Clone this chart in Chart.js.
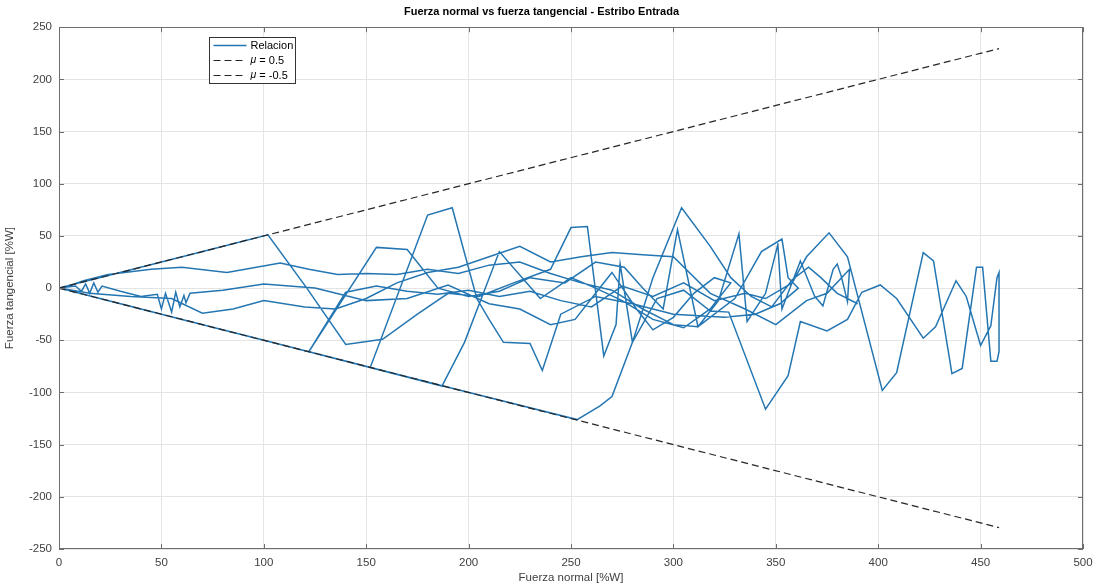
<!DOCTYPE html>
<html>
<head>
<meta charset="utf-8">
<title>Fuerza normal vs fuerza tangencial</title>
<script src="https://cdn.jsdelivr.net/npm/chart.js@4.4.0/dist/chart.umd.min.js"></script>
<style>
    html, body { margin: 0; padding: 0; background: #fff; }
    #wrap { width: 1104px; height: 588px; position: relative; }
</style>
</head>
<body>
<div id="wrap"><canvas id="fuerzaChart"></canvas></div>
<script>

// ---------- DATA ----------
// Relacion: fuerza normal (x) vs fuerza tangencial (y), en %W, one continuous trace
const relX = [
    // ciclo 1 (out)
    0, 25, 50, 75, 102, 121, 140, 158, 175, 190, 205, 222, 240, 250, 258, 266, 272, 274, 280, 292,
    305, 318, 327, 345, 356, 362, 375, 385, 392, 401, 409, 422, 428, 438, 443, 450, 455, 458, 459, 459,
    // ciclo 1 (back)
    458, 455, 451, 448, 441, 436, 427, 422, 409, 402, 385, 376, 365, 358, 345, 335, 320, 305, 290, 275,
    260, 245, 230, 215, 200, 185, 170, 155, 140, 122, 91.5, 61, 30.5, 0,
    // ciclo 2
    6, 12, 24, 45, 60, 82, 108, 122, 136, 150, 165, 180, 195, 210, 225, 240, 255, 270, 285, 300,
    312, 330, 343, 353, 356, 361, 352, 340, 325, 300, 280, 262, 245, 236, 230, 217, 210, 204, 192, 180,
    152, 114, 76, 38, 0,
    // ciclo 3
    30.5, 61, 91.5, 122, 155, 170, 185, 200, 215, 230, 247, 262, 276, 285, 295, 302, 312, 322, 332, 336,
    345, 351, 353, 362, 369, 373, 378, 380, 382, 385, 386, 375, 365, 350, 335, 318, 300, 285, 270, 255,
    240, 225, 210, 195, 180, 165, 150, 135, 120, 100, 85, 70, 55, 35, 15, 0,
    // ciclo 4
    8, 11, 13, 15, 17, 19, 21, 30, 40, 48, 50, 52, 55, 57, 59, 61, 62, 64, 80, 100,
    125, 150, 170, 190, 210, 225, 240, 252, 262, 270, 282, 290, 300, 310, 320, 328, 318, 305, 290, 275,
    262, 250, 235, 215, 198, 187, 140, 93, 46, 0,
    // ciclo 5
    63, 126, 190, 253, 264, 270, 280, 290, 304, 318, 328, 338, 348, 358, 366, 372, 380, 390
];
const relY = [
    0, 12.5, 25, 37.5, 51, 0, -54, -49, -25, -5, -8, 5, 18, 58, 59, -65, -35, 23, -52, -10,
    -2, -22, -23, -116, -84, -32, -41, -30, -4, 3, -10, -48, -37, 7, -8, -55, -36, 10, 15, -61,
    -70, -70, 20, 20, -77, -82, 26, 34, -81, -98, 30, 53, 30, 5, -10, -5, -12, 5, -8, 2,
    -18, -12, -3, -8, -2, -6, -3, 2, -4, -61, -45.75, -30.5, -15.25, 0,
    3, 7, 13, 18, 20, 15, 24, 18, 13, 14, 13, 18, 14, 22, 25, 14, 5, -2, -20, -35,
    -37, -10, 35, 47, 10, 0, -15, -25, -28, -25, -15, -8, -25, -79, -53, -52, -30, -10, 77, 70,
    -76, -57, -38, -19, 0,
    -15.25, -30.5, -45.75, -61, 39, 37, 0, -8, -3, 10, 5, 25, 20, 0, -20, 56, -37, -12, 52, -32,
    -5, 42, -20, 26, -8, -17, 18, 23, 11, -13, 18, -5, -12, -35, -20, -5, 30, 32, 34, 30,
    25, 40, 30, 20, 15, 5, -10, -20, -18, -12, -20, -24, -10, -8, -5, 0,
    2, -3, 4, -5, 5, -4, 2, -3, -8, -6, -20, -5, -23, -4, -18, -7, -14, -5, -2, 4,
    0, -12, -10, 3, -15, -20, -35, -30, -5, 15, -20, -40, -28, -5, 10, 5, -20, -38, -30, -12,
    0, 10, -10, 35, -52, -94, -70, -46.5, -23, 0,
    -31.5, -63, -95, -126, -113, -104, -52, 10, 77, 40, 10, -8, -18, 8, 20, 10, -5, -15
];

// friction limit lines: y = mu * x
const muX = [0, 459];
const muPosY = [0, 229.5];
const muNegY = [0, -229.5];

const labels = ["Relacion", "\u03bc = 0.5", "\u03bc = -0.5"];
const titleText = "Fuerza normal vs fuerza tangencial - Estribo Entrada";

// ---------- STYLE ----------
const FONT = "'Liberation Sans', Arial, Helvetica, sans-serif";
const TEXT_COLOR = "#404040";
const AXIS_COLOR = "#6e6e6e";
const GRID_COLOR = "#e4e4e4";
const BLUE = "#2476b2";
const DASH = "#262626";

function toPoints(xs, ys) {
    return xs.map((x, i) => ({ x: x, y: ys[i] }));
}

// ---------- MATLAB-LIKE BOX, INWARD TICKS, LEGEND ----------
const matlabBox = {
    id: "matlabBox",
    afterDatasetsDraw(chart) {
        const { ctx, chartArea: a, scales } = chart;
        const len = 5;
        ctx.save();
        ctx.strokeStyle = AXIS_COLOR;
        ctx.lineWidth = 1;
        ctx.strokeRect(Math.round(a.left) + 0.5, Math.round(a.top) + 0.5,
            Math.round(a.right - a.left) - 1, Math.round(a.bottom - a.top) - 1);

        ctx.beginPath();
        scales.x.ticks.forEach(t => {
            const px = Math.round(scales.x.getPixelForValue(t.value)) + 0.5;
            ctx.moveTo(px, a.bottom); ctx.lineTo(px, a.bottom - len);
            ctx.moveTo(px, a.top); ctx.lineTo(px, a.top + len);
        });
        scales.y.ticks.forEach(t => {
            const py = Math.round(scales.y.getPixelForValue(t.value)) + 0.5;
            ctx.moveTo(a.left, py); ctx.lineTo(a.left + len, py);
            ctx.moveTo(a.right, py); ctx.lineTo(a.right - len, py);
        });
        ctx.stroke();
        ctx.restore();
    },
    afterDraw(chart) {
        const { ctx, chartArea: a } = chart;
        const bx = Math.round(a.left + 150) + 0.5;
        const by = Math.round(a.top + 10) + 0.5;
        const bw = 86, bh = 46, row = 15;

        ctx.save();
        ctx.fillStyle = "#fff";
        ctx.fillRect(bx, by, bw, bh);
        ctx.strokeStyle = "#333";
        ctx.lineWidth = 1;
        ctx.strokeRect(bx, by, bw, bh);

        chart.data.datasets.forEach((ds, i) => {
            const cy = by + 8 + i * row;
            ctx.beginPath();
            ctx.strokeStyle = ds.borderColor;
            ctx.lineWidth = ds.borderWidth;
            ctx.setLineDash(ds.borderDash || []);
            ctx.moveTo(bx + 4, cy);
            ctx.lineTo(bx + 37, cy);
            ctx.stroke();
            ctx.setLineDash([]);

            ctx.fillStyle = "#000";
            ctx.textBaseline = "middle";
            ctx.textAlign = "left";
            let tx = bx + 41;
            let txt = ds.label;
            if (txt.charAt(0) === "\u03bc") {
                ctx.font = "italic 10.5px " + FONT;
                ctx.fillText("\u03bc", tx, cy);
                tx += ctx.measureText("\u03bc").width;
                txt = txt.slice(1);
            }
            ctx.font = "11px " + FONT;
            ctx.fillText(txt, tx, cy);
        });
        ctx.restore();
    }
};

// ---------- CHART ----------
const canvas = document.getElementById("fuerzaChart");

new Chart(canvas.getContext("2d"), {
    type: "scatter",
    data: {
        datasets: [
            {
                label: labels[0],
                data: toPoints(relX, relY),
                showLine: true,
                borderColor: BLUE,
                backgroundColor: BLUE,
                borderWidth: 1.5,
                pointRadius: 0,
                tension: 0,
                order: 2
            },
            {
                label: labels[1],
                data: toPoints(muX, muPosY),
                showLine: true,
                borderColor: DASH,
                borderWidth: 1.2,
                borderDash: [7, 4],
                pointRadius: 0,
                order: 1
            },
            {
                label: labels[2],
                data: toPoints(muX, muNegY),
                showLine: true,
                borderColor: DASH,
                borderWidth: 1.2,
                borderDash: [7, 4],
                pointRadius: 0,
                order: 1
            }
        ]
    },
    options: {
        responsive: true,
        maintainAspectRatio: false,
        devicePixelRatio: 1,
        animation: false,
        layout: { padding: { left: 0, right: 21, top: 0, bottom: 0 } },
        plugins: {
            legend: { display: false },
            tooltip: { enabled: false },
            title: {
                display: true,
                text: titleText,
                color: "#000",
                font: { family: FONT, size: 11, weight: "bold" },
                padding: { top: 5, bottom: 9 }
            }
        },
        scales: {
            x: {
                type: "linear",
                min: 0,
                max: 500,
                afterFit: s => { s.height = 39; },
                ticks: {
                    stepSize: 50,
                    color: TEXT_COLOR,
                    font: { family: FONT, size: 11.5 },
                    padding: 7,
                    maxRotation: 0
                },
                grid: { color: GRID_COLOR, drawTicks: false },
                border: { display: false },
                title: {
                    display: true,
                    text: "Fuerza normal [%W]",
                    color: TEXT_COLOR,
                    font: { family: FONT, size: 11.5 },
                    padding: { top: 0, bottom: 3 }
                }
            },
            y: {
                min: -250,
                max: 250,
                afterFit: s => { s.width = 59; },
                ticks: {
                    stepSize: 50,
                    color: TEXT_COLOR,
                    font: { family: FONT, size: 11.5 },
                    padding: 7
                },
                grid: { color: GRID_COLOR, drawTicks: false },
                border: { display: false },
                title: {
                    display: true,
                    text: "Fuerza tangencial [%W]",
                    color: TEXT_COLOR,
                    font: { family: FONT, size: 11.5 },
                    padding: { top: 3, bottom: 0 }
                }
            }
        }
    },
    plugins: [matlabBox]
});

</script>
</body>
</html>
